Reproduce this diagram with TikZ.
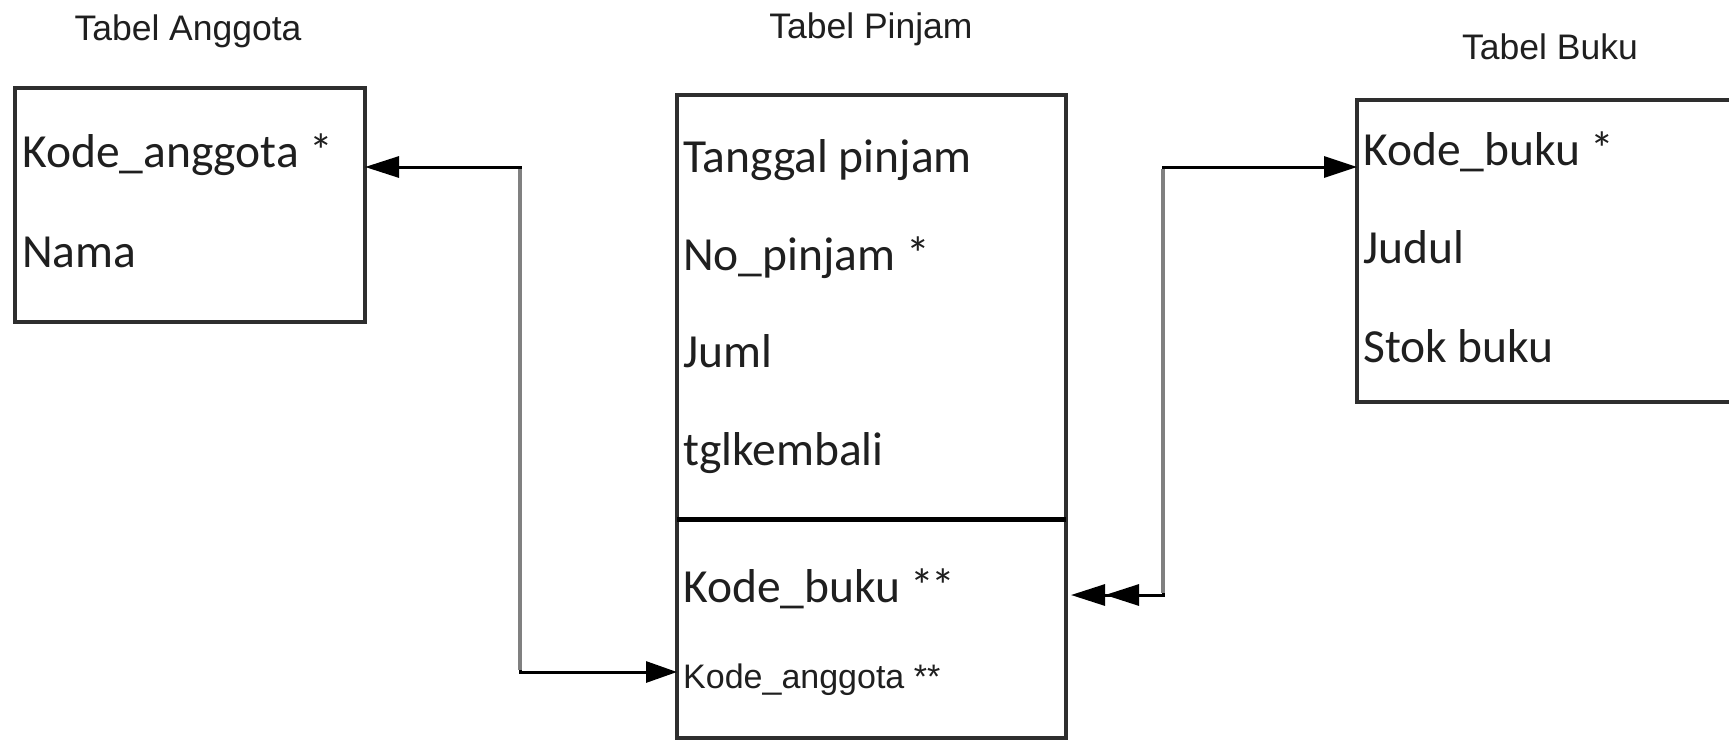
\documentclass[tikz,border=0pt]{standalone}
\usepackage{fontspec}
\setmainfont{Carlito}
\newfontfamily\arialf{Liberation Sans}
\usetikzlibrary{arrows.meta}
\tikzset{
  box/.style={draw=black!82, line width=4pt, rectangle, inner sep=0pt, outer sep=0pt},
  field/.style={anchor=base west, inner sep=0pt, text=black!88, font=\fontsize{47.5}{52}\selectfont},
  smallfield/.style={anchor=base west, inner sep=0pt, text=black!88, font=\arialf\fontsize{34}{40}\selectfont},
  ttl/.style={anchor=base, inner sep=0pt, text=black!88, font=\arialf\fontsize{35.5}{40}\selectfont},
  conn/.style={draw=black, line width=3pt},
  vline/.style={draw=black!50, line width=3.5pt},
}
\begin{document}
\begin{tikzpicture}[x=1pt, y=-1pt]
\useasboundingbox (0,0) rectangle (1729,739);
\fill[white] (0,0) rectangle (1729,739);

% titles
\node[ttl] (tA) at (188,40) {Tabel Anggota};
\node[ttl] (tP) at (871,38) {Tabel Pinjam};
\node[ttl] (tB) at (1550,59) {Tabel Buku};

% boxes
\node[box, minimum width=350pt, minimum height=234pt] (A) at (190,205) {};
\node[box, minimum width=389pt, minimum height=643pt] (P) at (871.5,416.5) {};
\node[box, minimum width=400pt, minimum height=302pt] (B) at (1557,251) {};
\draw[draw=black, line width=5pt] (P.west |- 0,519) -- (P.east |- 0,519);

% fields
\node[field] (a1) at (22,167) {Kode\_anggota *};
\node[field] (a2) at (22,267) {Nama};

\node[field] (p1) at (683,172) {Tanggal pinjam};
\node[field] (p2) at (683,270) {No\_pinjam *};
\node[field] (p3) at (683,367) {Juml};
\node[field] (p4) at (683,465) {tglkembali};
\node[field] (p5) at (683,602) {Kode\_buku *\kern-3pt*};
\node[smallfield] (p6) at (683,688) {Kode\_anggota **};

\node[field] (b1) at (1363,165) {Kode\_buku *};
\node[field] (b2) at (1363,263) {Judul};
\node[field] (b3) at (1363,362) {Stok buku};

% connectors
\coordinate (jl) at (520,0);
\coordinate (jr) at (1163,0);
\draw[conn, arrows={Triangle[length=34pt,width=21pt]-Triangle[length=31pt,width=21pt]}]
  (A.east |- 0,167) -| (jl |- 0,672) -- (P.west |- 0,672);
\draw[vline] (jl |- 0,169) -- (jl |- 0,670);

\draw[conn, arrows={Triangle[length=34pt,width=21pt,sep=5pt] Triangle[length=34pt,width=21pt]-Triangle[length=33pt,width=21pt]}]
  (P.east |- 0,595) -| (jr |- 0,167) -- (B.west |- 0,167);
\draw[vline] (jr |- 0,169) -- (jr |- 0,593);
\end{tikzpicture}
\end{document}
